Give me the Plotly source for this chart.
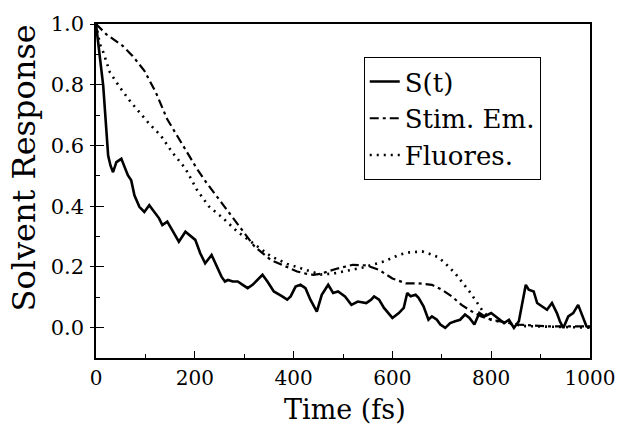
import plotly.graph_objects as go

# ---- data ----
s_t = [0, 14.6, 24.6, 29.3, 34.5, 41.3, 51.3, 57.9, 64.5, 71.3, 77.8, 87.8, 97.8, 107.8, 117.8,
       127.7, 134.3, 144.3, 154.3, 167.7, 181, 194.2, 201, 211, 221, 234, 244, 254, 261, 267,
       277, 287, 297, 307, 317, 327, 337, 347, 360, 377, 387, 394, 404, 414, 424, 434, 447,
       457, 470, 480, 490, 504, 517, 530, 547, 557, 563, 573, 583, 600, 613, 623, 630, 637,
       647, 653, 663, 673, 680, 690, 697, 707, 717, 727, 737, 747, 756, 766, 776, 786, 800,
       813, 826, 836, 846, 856, 863, 870, 876, 886, 893, 903, 913, 923, 933, 939, 946, 956,
       966, 976, 983, 993, 1000]
s_v = [1.0, 0.797, 0.567, 0.534, 0.512, 0.545, 0.556, 0.529, 0.502, 0.485, 0.436, 0.398, 0.381,
       0.403, 0.381, 0.36, 0.338, 0.349, 0.321, 0.283, 0.316, 0.299, 0.289, 0.245, 0.212, 0.239,
       0.201, 0.168, 0.152, 0.157, 0.152, 0.152, 0.141, 0.13, 0.141, 0.157, 0.174, 0.152, 0.119,
       0.103, 0.092, 0.103, 0.135, 0.141, 0.13, 0.092, 0.053, 0.108, 0.141, 0.114, 0.119, 0.103,
       0.075, 0.086, 0.081, 0.092, 0.103, 0.092, 0.065, 0.032, 0.048, 0.065, 0.114, 0.103, 0.108,
       0.098, 0.07, 0.026, 0.037, 0.026, 0.01, -0.001, 0.015, 0.021, 0.026, 0.043, 0.032, 0.01,
       0.048, 0.037, 0.048, 0.032, 0.015, 0.026, -0.001, 0.021, 0.081, 0.141, 0.125, 0.119, 0.081,
       0.07, 0.059, 0.081, 0.048, 0.021, -0.001, 0.037, 0.048, 0.075, 0.043, 0.004, 0.0]

stim_t = [0, 21, 54, 74, 98, 121, 144, 168, 188, 204, 221, 254, 287, 321, 354, 387, 407, 427,
          440, 454, 487, 520, 547, 573, 600, 627, 653, 680, 700, 720, 740, 760, 780, 800, 853,
          920, 1000]
stim_v = [1.0, 0.966, 0.928, 0.895, 0.846, 0.775, 0.687, 0.622, 0.567, 0.524, 0.483, 0.412,
          0.338, 0.267, 0.223, 0.198, 0.185, 0.177, 0.174, 0.177, 0.194, 0.207, 0.205, 0.19,
          0.162, 0.146, 0.146, 0.141, 0.125, 0.103, 0.075, 0.054, 0.037, 0.026, 0.01, 0.004,
          0.004]

fl_t = [0, 8, 15, 28, 48, 68, 88, 108, 131, 154, 181, 204, 228, 254, 287, 321, 354, 387, 427,
        454, 480, 507, 540, 583, 613, 630, 660, 677, 693, 707, 727, 740, 756, 770, 783, 800,
        830, 870, 1000]
fl_v = [1.0, 0.933, 0.906, 0.841, 0.792, 0.748, 0.709, 0.671, 0.633, 0.578, 0.524, 0.455, 0.4,
        0.365, 0.315, 0.275, 0.235, 0.21, 0.188, 0.175, 0.178, 0.188, 0.198, 0.218, 0.239,
        0.247, 0.251, 0.242, 0.232, 0.212, 0.179, 0.152, 0.119, 0.086, 0.054, 0.026, 0.015,
        0.005, 0.0]

series_names = ["S(t)", "Stim. Em.", "Fluores."]
x_ticks = [0, 200, 400, 600, 800, 1000]
y_ticks = [0.0, 0.2, 0.4, 0.6, 0.8, 1.0]
y_tick_text = ["0.0", "0.2", "0.4", "0.6", "0.8", "1.0"]

FONT = "DejaVu Serif"

fig = go.Figure()
fig.add_trace(go.Scatter(x=s_t, y=s_v, mode="lines", name=series_names[0],
                         line=dict(color="black", width=2.6)))
fig.add_trace(go.Scatter(x=stim_t, y=stim_v, mode="lines", name=series_names[1],
                         line=dict(color="black", width=2.2, dash="9px,4px,3px,4px")))
fig.add_trace(go.Scatter(x=fl_t, y=fl_v, mode="lines", name=series_names[2],
                         line=dict(color="black", width=2.6, dash="2px,5px")))
# overlay axis for outward tick halves
fig.add_trace(go.Scatter(x=[None], y=[None], yaxis="y2", showlegend=False, hoverinfo="skip"))

fig.update_layout(
    width=627, height=426,
    margin=dict(l=96, r=30, t=23, b=68),
    paper_bgcolor="white", plot_bgcolor="white",
    font=dict(family=FONT, color="black", size=20),
    showlegend=True,
    legend=dict(x=0.542, y=0.901, xanchor="left", yanchor="top",
                bordercolor="black", borderwidth=1, bgcolor="white",
                font=dict(family=FONT, size=26), tracegroupgap=0,
                itemwidth=30),
    xaxis=dict(range=[0, 1000], tickvals=x_ticks, ticks="inside", ticklen=7,
               tickwidth=1.2, tickcolor="black", showline=True, linecolor="black",
               linewidth=1.5, mirror=True, showgrid=False, zeroline=False,
               tickfont=dict(size=20), ticklabelstandoff=1,
               minor=dict(dtick=100, ticks="inside", ticklen=4, tickcolor="black",
                          showgrid=False)),
    yaxis=dict(range=[-0.1, 1.0], tickvals=y_ticks, ticktext=y_tick_text, ticks="inside",
               ticklen=8, tickwidth=1.2, tickcolor="black", showline=True,
               linecolor="black", linewidth=1.5, mirror=True, showgrid=False,
               zeroline=False, tickfont=dict(size=21), ticklabelstandoff=6,
               minor=dict(dtick=0.1, tick0=0, ticks="inside", ticklen=4,
                          tickcolor="black", showgrid=False)),
    yaxis2=dict(range=[-0.1, 1.0], overlaying="y", side="left", tickvals=y_ticks,
                showticklabels=False, ticks="outside", ticklen=5, tickwidth=1.2,
                tickcolor="black", showgrid=False, zeroline=False, showline=False),
    annotations=[
        dict(text="Solvent Response", xref="paper", yref="paper",
             x=-0.146, y=0.57, xanchor="center", yanchor="middle", textangle=-90,
             showarrow=False, font=dict(family=FONT, size=32)),
        dict(text="Time (fs)", xref="paper", yref="paper",
             x=0.505, y=-0.153, xanchor="center", yanchor="middle",
             showarrow=False, font=dict(family=FONT, size=27)),
    ],
)

fig.write_html("out.html")
